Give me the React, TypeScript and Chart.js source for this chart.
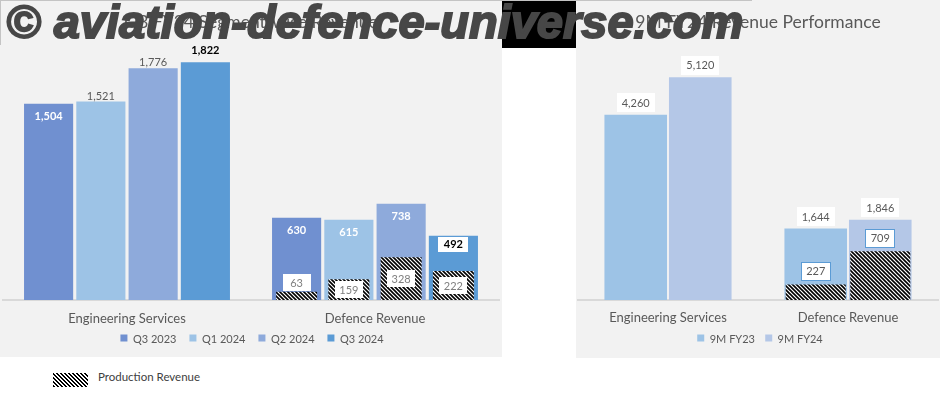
import React, { useEffect, useRef } from 'react';
import { Chart, registerables } from 'chart.js';

Chart.register(...registerables);
Chart.defaults.font.family = 'Lato, "Open Sans", sans-serif';

// ---------- Left chart: quarterly ----------
const quarterTitle = 'Q3 FY24 Segment-wise Revenue';
const quarterCategories = ['Engineering Services', 'Defence Revenue'];
const quarterSeriesNames = ['Q3 2023', 'Q1 2024', 'Q2 2024', 'Q3 2024'];
const q3_2023 = [1504, 630];
const q1_2024 = [1521, 615];
const q2_2024 = [1776, 738];
const q3_2024 = [1822, 492];
const prodQ3_2023 = [null, 63];
const prodQ1_2024 = [null, 159];
const prodQ2_2024 = [null, 328];
const prodQ3_2024 = [null, 222];
const quarterAxisMax = 2000;

// ---------- Right chart: nine months ----------
const nineMonthTitle = '9M FY24 Revenue Performance';
const nineMonthCategories = ['Engineering Services', 'Defence Revenue'];
const nineMonthSeriesNames = ['9M FY23', '9M FY24'];
const fy23 = [4260, 1644];
const fy24 = [5120, 1846];
const prodFy23 = [null, 227];
const prodFy24 = [null, 709];
const nineMonthAxisMax = 6000;
const nineMonthProdAxisMax = 3800;

const productionLabel = 'Production Revenue';
const watermarkText = '© aviation-defence-universe.com';

// ---------- styles ----------
const quarterColors = ['#7090d0', '#9dc3e6', '#8eaadb', '#5b9bd5'];
const nineMonthColors = ['#9dc3e6', '#b4c7e7'];
const FONT = 'Lato, "Open Sans", sans-serif';

const LABEL_STYLES: Record<string, any> = {
  insideWhite: { weight: 'bold', color: '#ffffff', pos: 'inside', offset: 12 },
  aboveGray: { weight: 'normal', color: '#595959', pos: 'above', offset: 6 },
  aboveBlack: { weight: 'bold', color: '#000000', pos: 'above', offset: 12 },
  boxBlack: { weight: 'bold', color: '#000000', pos: 'inside', offset: 8.5, box: [30, 15] },
  prodBox: { weight: 'normal', color: '#7f7f7f', pos: 'prod', box: [28, 17] },
  aboveBox: { weight: 'normal', color: '#595959', pos: 'above', offset: 12, box: [38, 19] },
  prodBlueBox: { weight: 'normal', color: '#595959', pos: 'above', offset: 13, box: [30, 19], border: '#5b9bd5' },
};

function makeHatch(): CanvasPattern | string {
  const c = document.createElement('canvas');
  c.width = 4;
  c.height = 4;
  const g = c.getContext('2d');
  if (!g) return '#000';
  g.fillStyle = '#ffffff';
  g.fillRect(0, 0, 4, 4);
  g.strokeStyle = '#000000';
  g.lineWidth = 1.6;
  g.beginPath();
  g.moveTo(-1, -1);
  g.lineTo(5, 5);
  g.moveTo(-1, 3);
  g.lineTo(1, 5);
  g.moveTo(3, -1);
  g.lineTo(5, 1);
  g.stroke();
  return g.createPattern(c, 'repeat') || '#000';
}

const barLabelPlugin = {
  id: 'barLabels',
  afterDatasetsDraw(chart: any) {
    const ctx = chart.ctx as CanvasRenderingContext2D;
    chart.data.datasets.forEach((ds: any, di: number) => {
      const styles: string[] | undefined = ds.labelStyles;
      if (!styles) return;
      const meta = chart.getDatasetMeta(di);
      meta.data.forEach((bar: any, i: number) => {
        const v = ds.data[i];
        if (v == null) return;
        const st = LABEL_STYLES[styles[i]];
        if (!st) return;
        const { x, y, base } = bar.getProps(['x', 'y', 'base'], true);
        const h = base - y;
        let cy: number;
        if (st.pos === 'inside') cy = y + st.offset;
        else if (st.pos === 'above') cy = y - st.offset;
        else cy = h < 12 ? y - 9 : (y + base) / 2;
        ctx.save();
        if (st.box) {
          const [bw, bh] = st.box;
          ctx.fillStyle = '#ffffff';
          ctx.fillRect(Math.round(x - bw / 2), Math.round(cy - bh / 2), bw, bh);
          if (st.border) {
            ctx.strokeStyle = st.border;
            ctx.lineWidth = 1;
            ctx.strokeRect(Math.round(x - bw / 2) + 0.5, Math.round(cy - bh / 2) + 0.5, bw - 1, bh - 1);
          }
        }
        ctx.font = `${st.weight} 11px ${FONT}`;
        ctx.fillStyle = st.color;
        ctx.textAlign = 'center';
        ctx.textBaseline = 'middle';
        ctx.fillText(Number(v).toLocaleString('en-US'), x, cy + 0.5);
        ctx.restore();
      });
    });
  },
};

function HtmlLegend(props: { names: string[]; colors: string[]; gap: number; cx: number; cy: number }) {
  const { names, colors, gap, cx, cy } = props;
  return (
    <div
      style={{
        position: 'absolute',
        left: cx,
        top: cy,
        transform: 'translate(-50%, -50%)',
        display: 'flex',
        alignItems: 'center',
        gap,
        whiteSpace: 'nowrap',
        fontFamily: FONT,
        fontSize: 11,
        lineHeight: '13px',
        color: '#595959',
      }}
    >
      {names.map((n, i) => (
        <div key={n} style={{ display: 'flex', alignItems: 'center' }}>
          <span style={{ display: 'inline-block', width: 7, height: 7, background: colors[i], marginRight: 5.5 }} />
          <span>{n}</span>
        </div>
      ))}
    </div>
  );
}

function QuarterChart() {
  const ref = useRef<HTMLCanvasElement>(null);
  useEffect(() => {
    if (!ref.current) return;
    const hatch = makeHatch();
    const values = [q3_2023, q1_2024, q2_2024, q3_2024];
    const prods = [prodQ3_2023, prodQ1_2024, prodQ2_2024, prodQ3_2024];
    const styles = [
      ['insideWhite', 'insideWhite'],
      ['aboveGray', 'insideWhite'],
      ['aboveGray', 'insideWhite'],
      ['aboveBlack', 'boxBlack'],
    ];
    const datasets: any[] = [];
    quarterSeriesNames.forEach((name, k) => {
      datasets.push({
        label: name,
        data: values[k],
        stack: 's' + k,
        backgroundColor: quarterColors[k],
        borderWidth: 0,
        categoryPercentage: 0.843,
        barPercentage: 0.94,
        order: 1,
        labelStyles: styles[k],
      });
    });
    quarterSeriesNames.forEach((name, k) => {
      datasets.push({
        label: productionLabel + ' ' + name,
        data: prods[k],
        stack: 's' + k,
        backgroundColor: hatch,
        borderWidth: 0,
        categoryPercentage: 0.843,
        barPercentage: 0.785,
        order: 0,
        labelStyles: ['prodBox', 'prodBox'],
      });
    });
    const chart = new Chart(ref.current, {
      type: 'bar',
      data: { labels: quarterCategories, datasets },
      options: {
        animation: false,
        responsive: false,
        maintainAspectRatio: false,
        layout: { padding: { left: 3, right: 3, top: 0, bottom: 19 } },
        plugins: {
          title: {
            display: true,
            text: quarterTitle,
            color: '#595959',
            font: { size: 17.5, weight: 'normal' },
            padding: { top: 11.5, bottom: 6.5 },
          },
          legend: { display: false },
          tooltip: { enabled: false },
        },
        scales: {
          x: {
            grid: { display: false, drawTicks: false },
            border: { display: true, color: '#d9d9d9', width: 2 },
            ticks: { color: '#595959', font: { size: 13, lineHeight: 1.2 }, padding: 11.2 },
          },
          y: { display: false, stacked: false, min: 0, max: quarterAxisMax },
        },
      } as any,
      plugins: [barLabelPlugin],
    });
    return () => chart.destroy();
  }, []);
  return <canvas ref={ref} width={502} height={357} style={{ display: 'block' }} />;
}

function NineMonthChart() {
  const ref = useRef<HTMLCanvasElement>(null);
  useEffect(() => {
    if (!ref.current) return;
    const hatch = makeHatch();
    const values = [fy23, fy24];
    const prods = [prodFy23, prodFy24];
    const datasets: any[] = [];
    nineMonthSeriesNames.forEach((name, k) => {
      datasets.push({
        label: name,
        data: values[k],
        stack: 'n' + k,
        backgroundColor: nineMonthColors[k],
        borderWidth: 0,
        categoryPercentage: 0.717,
        barPercentage: 0.97,
        yAxisID: 'y',
        order: 1,
        labelStyles: ['aboveBox', 'aboveBox'],
      });
    });
    nineMonthSeriesNames.forEach((name, k) => {
      datasets.push({
        label: productionLabel + ' ' + name,
        data: prods[k],
        stack: 'n' + k,
        backgroundColor: hatch,
        borderWidth: 0,
        categoryPercentage: 0.717,
        barPercentage: 0.93,
        yAxisID: 'y2',
        order: 0,
        labelStyles: ['prodBlueBox', 'prodBlueBox'],
      });
    });
    const chart = new Chart(ref.current, {
      type: 'bar',
      data: { labels: nineMonthCategories, datasets },
      options: {
        animation: false,
        responsive: false,
        maintainAspectRatio: false,
        layout: { padding: { left: 2, right: 2, top: 0, bottom: 22 } },
        plugins: {
          title: {
            display: true,
            text: nineMonthTitle,
            color: '#595959',
            font: { size: 17.5, weight: 'normal' },
            padding: { top: 11.5, bottom: 6.5 },
          },
          legend: { display: false },
          tooltip: { enabled: false },
        },
        scales: {
          x: {
            grid: { display: false, drawTicks: false },
            border: { display: true, color: '#d9d9d9', width: 2 },
            ticks: { color: '#595959', font: { size: 13, lineHeight: 1.2 }, padding: 10.2 },
          },
          y: { display: false, stacked: false, min: 0, max: nineMonthAxisMax },
          y2: { display: false, stacked: false, min: 0, max: nineMonthProdAxisMax },
        },
      } as any,
      plugins: [barLabelPlugin],
    });
    return () => chart.destroy();
  }, []);
  return <canvas ref={ref} width={364} height={358} style={{ display: 'block' }} />;
}

export default function App() {
  return (
    <div
      style={{
        position: 'absolute',
        left: 0,
        top: 0,
        width: 940,
        height: 396,
        background: '#ffffff',
        overflow: 'hidden',
      }}
    >
      <div style={{ position: 'absolute', left: 0, top: 0, width: 502, height: 357, background: '#f2f2f2' }}>
        <QuarterChart />
        <HtmlLegend names={quarterSeriesNames} colors={quarterColors} gap={13} cx={252} cy={338} />
      </div>
      <div style={{ position: 'absolute', left: 502, top: 0, width: 75, height: 48, background: '#000000' }} />
      <div style={{ position: 'absolute', left: 576, top: 0, width: 364, height: 358, background: '#f2f2f2' }}
      >
        <NineMonthChart />
        <HtmlLegend names={nineMonthSeriesNames} colors={nineMonthColors} gap={10} cx={184} cy={338} />
      </div>
      <div style={{ position: 'absolute', left: 0, top: 0, width: 752, height: 1, background: '#c4c4c4' }} />
      <div style={{ position: 'absolute', left: 0, top: 0, width: 1, height: 45, background: '#c4c4c4' }} />
      <div
        style={{
          position: 'absolute',
          left: 53,
          top: 373,
          width: 35,
          height: 14,
          background: 'repeating-linear-gradient(45deg, #000 0 1.5px, #fff 1.5px 2.83px)',
        }}
      />
      <div
        style={{
          position: 'absolute',
          left: 98,
          top: 369,
          height: 16,
          lineHeight: '16px',
          fontFamily: FONT,
          fontSize: 11.5,
          color: '#404040',
          whiteSpace: 'nowrap',
        }}
      >
        {productionLabel}
      </div>
      <div
        style={{
          position: 'absolute',
          left: 6,
          top: -2,
          height: 47,
          lineHeight: '47px',
          fontFamily: '"Liberation Sans", Arial, sans-serif',
          fontWeight: 'bold',
          fontStyle: 'italic',
          fontSize: 47,
          color: '#474747',
          WebkitTextStroke: '2px #474747',
          whiteSpace: 'nowrap',
          filter: 'blur(0.4px)',
        }}
      >
        {watermarkText}
      </div>
    </div>
  );
}
